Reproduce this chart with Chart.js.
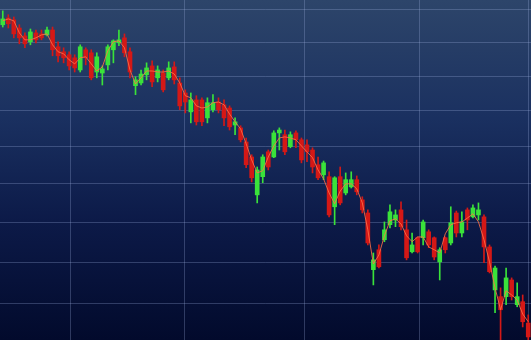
<!DOCTYPE html>
<html lang="en">
<head>
    <meta charset="UTF-8">
    <title>Candlestick Chart</title>
    <script src="https://cdn.jsdelivr.net/npm/chart.js"></script>
    <style>
        html, body { margin: 0; padding: 0; background: #020a2e; }
        #chart {
            display: block;
            background: linear-gradient(to bottom, #2d456a 0%, #1a3060 35%, #0c1a48 65%, #020a2c 100%);
        }
    </style>
</head>
<body>
    <canvas id="chart" width="531" height="340"></canvas>

    <script>
        // Daily candles (open / high / low / close) and the close line on top
        const opens = [32.54,32.75,32.69,32.44,32.20,32.02,32.29,32.26,32.23,32.38,
            31.87,31.72,31.63,31.54,31.18,31.78,31.69,31.12,31.09,31.33,
            31.78,31.99,32.14,31.72,30.72,30.80,31.04,31.30,30.95,31.09,
            30.95,31.27,30.80,30.51,29.97,30.31,30.31,29.80,30.03,30.25,
            30.17,30.08,29.60,29.52,29.13,28.72,27.71,28.19,28.86,28.72,
            29.38,29.33,29.00,29.38,29.19,29.05,28.91,28.51,28.24,28.19,
            27.40,28.19,27.76,27.92,28.11,27.58,27.24,25.82,26.31,26.56,
            26.94,27.06,27.32,26.81,26.26,26.61,26.61,26.76,26.61,26.01,
            26.61,26.48,27.24,26.73,27.32,27.14,27.19,27.14,26.38,25.33,
            25.17,25.17,25.57,24.98,25.05,24.55];
        const highs = [32.97,32.85,32.78,32.54,32.29,32.41,32.38,32.38,32.47,32.47,
            32.02,31.84,31.72,31.63,31.93,31.84,31.78,31.69,31.30,31.93,
            32.08,32.38,32.26,31.84,30.98,31.18,31.39,31.45,31.30,31.18,
            31.42,31.42,30.95,30.60,30.51,30.43,30.37,30.37,30.46,30.37,
            30.31,30.14,29.80,29.58,29.24,28.78,28.45,28.78,28.91,29.44,
            29.52,29.46,29.41,29.44,29.24,29.19,28.97,28.72,28.61,28.32,
            28.19,28.45,28.29,28.32,28.21,27.66,27.32,26.23,26.43,27.01,
            27.45,27.32,27.53,27.06,26.73,26.63,27.06,26.81,26.63,26.36,
            26.63,27.40,27.29,27.27,27.37,27.45,27.50,27.19,26.43,25.91,
            25.38,25.86,25.62,25.50,25.21,24.74];
        const lows = [32.47,32.44,32.14,31.96,31.84,31.93,31.99,32.08,32.20,31.60,
            31.42,31.39,31.18,31.12,31.12,31.33,30.89,30.95,30.74,31.18,
            31.39,31.90,31.57,30.95,30.46,30.74,30.89,30.69,30.83,30.54,
            30.89,30.77,30.03,29.94,29.66,29.60,29.58,29.66,29.97,29.94,
            29.58,29.46,29.33,29.13,28.43,28.05,27.50,28.03,28.37,28.70,
            28.91,28.78,28.97,28.97,28.56,28.59,28.29,28.11,28.11,27.14,
            26.94,27.45,27.71,27.89,27.71,27.24,26.43,25.45,25.86,26.51,
            26.86,26.89,26.81,26.06,26.23,26.23,26.43,26.36,26.06,25.57,
            26.23,26.43,26.63,26.63,26.81,27.11,27.06,25.99,25.74,24.79,
            24.16,24.98,25.09,24.93,24.46,24.16];
        const closes = [32.72,32.57,32.26,32.14,31.96,32.32,32.08,32.14,32.38,31.78,
            31.60,31.54,31.30,31.24,31.87,31.54,30.95,31.57,31.21,31.87,
            32.05,32.08,31.69,31.12,30.89,31.06,31.24,30.83,31.18,30.60,
            31.24,30.89,30.14,30.25,30.31,29.69,29.69,30.23,30.23,30.03,
            29.80,29.55,29.69,29.19,28.51,28.16,28.37,28.72,28.45,29.38,
            29.46,28.86,29.33,29.19,28.64,28.86,28.45,28.16,28.56,27.19,
            28.16,27.50,28.11,28.11,27.79,27.32,26.48,26.06,25.89,26.81,
            27.27,27.19,26.89,26.11,26.43,26.26,27.01,26.43,26.13,26.31,
            26.31,26.99,26.73,27.01,27.06,27.37,27.32,26.38,25.77,25.86,
            24.86,25.62,25.17,25.17,24.58,24.23];
        const trend = [32.66,32.72,32.66,32.29,32.08,32.08,32.14,32.23,32.26,31.93,
            31.72,31.66,31.48,31.36,31.54,31.57,31.36,31.15,31.27,31.75,
            32.02,32.05,31.84,31.18,30.77,30.95,31.15,31.15,31.12,31.12,
            31.15,31.06,30.80,30.43,30.37,30.14,30.08,30.11,30.23,30.25,
            30.17,29.91,29.69,29.49,29.08,28.64,28.29,28.35,28.72,29.02,
            29.24,29.27,29.24,29.19,29.02,28.86,28.70,28.37,28.13,27.76,
            27.48,27.81,28.00,28.00,27.87,27.50,26.81,25.96,26.18,26.66,
            27.04,27.09,26.96,26.66,26.51,26.63,26.63,26.38,26.31,26.23,
            26.71,26.94,26.99,27.01,27.11,27.22,27.01,26.56,26.01,25.38,
            24.86,25.31,25.21,25.09,24.76,24.58];

        // grid positions (price levels and day positions of the vertical lines)
        const yTicks = [25, 26, 27, 28, 29, 30, 31, 32, 33];
        const xGrid = [12.2, 32.8, 54.5, 75.3, 95.0];
        const yMin = 24.16, yMax = 33.31;

        const UP = 'rgb(58, 226, 58)';
        const DOWN = 'rgb(212, 24, 22)';

        const days = opens.map((o, i) => i);
        const colors = days.map(i => closes[i] >= opens[i] ? UP : DOWN);

        new Chart(document.getElementById('chart'), {
            type: 'bar',
            data: {
                datasets: [
                    {
                        type: 'line',
                        data: days.map(i => ({ x: i, y: trend[i] })),
                        borderColor: 'rgba(255, 112, 72, 0.85)',
                        borderWidth: 1,
                        pointRadius: 0,
                        tension: 0,
                        order: 0
                    },
                    {
                        data: days.map(i => ({ x: i, y: [opens[i], closes[i]] })),
                        backgroundColor: colors,
                        barThickness: 4,
                        grouped: false,
                        order: 1
                    },
                    {
                        data: days.map(i => ({ x: i, y: [lows[i], highs[i]] })),
                        backgroundColor: colors,
                        barThickness: 1,
                        grouped: false,
                        order: 2
                    }
                ]
            },
            options: {
                responsive: false,
                animation: false,
                devicePixelRatio: 1,
                layout: { padding: 0 },
                plugins: { legend: { display: false }, tooltip: { enabled: false } },
                scales: {
                    x: {
                        type: 'linear',
                        min: -0.5,
                        max: opens.length - 0.5,
                        offset: false,
                        afterBuildTicks: s => { s.ticks = xGrid.map(v => ({ value: v })); },
                        ticks: { display: false },
                        border: { display: false },
                        grid: { color: 'rgba(160, 180, 225, 0.28)', drawTicks: false, offset: false }
                    },
                    y: {
                        type: 'logarithmic',
                        min: yMin,
                        max: yMax,
                        afterBuildTicks: s => { s.ticks = yTicks.map(v => ({ value: v })); },
                        ticks: { display: false },
                        border: { display: false },
                        grid: { color: 'rgba(160, 180, 225, 0.28)', drawTicks: false }
                    }
                }
            }
        });
    </script>
</body>
</html>
